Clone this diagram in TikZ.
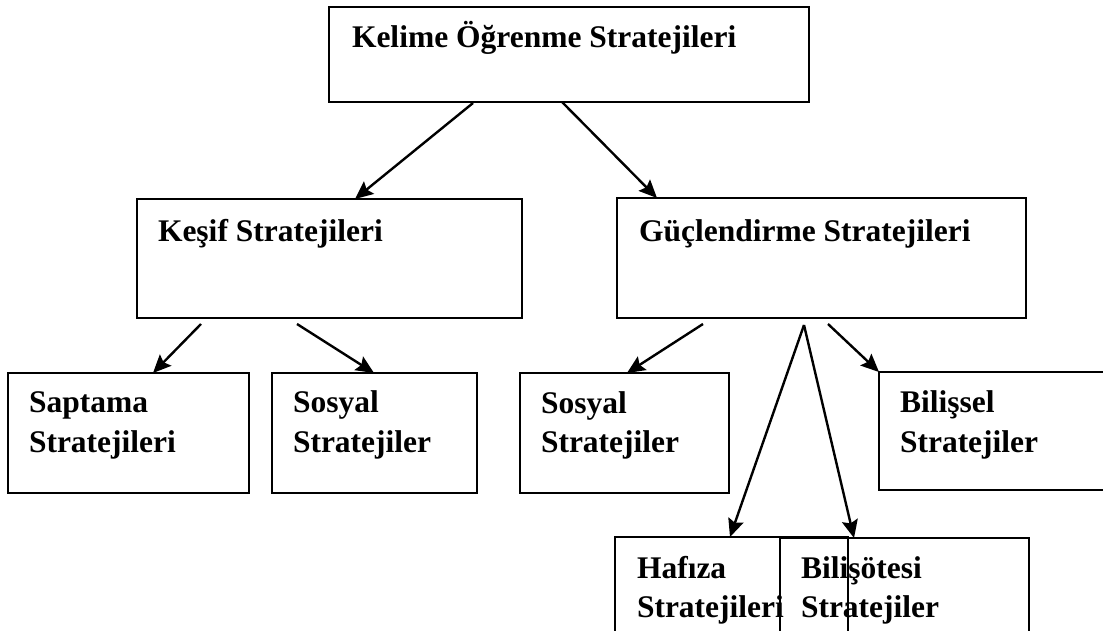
\documentclass[tikz,border=0pt]{standalone}
\usepackage{fontspec}
\setmainfont{Liberation Serif}
\usetikzlibrary{arrows.meta,calc}
\begin{document}
\begin{tikzpicture}[x=1pt,y=-1pt,
  box/.style={draw=black,line width=2.4pt,inner sep=0pt,outer sep=0pt,anchor=north west,rectangle},
  lbl/.style={inner sep=0pt,outer sep=0pt,anchor=base west,font=\bfseries\fontsize{31.5}{40}\selectfont},
  arr/.style={line width=2.4pt,-{Stealth[length=18pt,width=16pt,inset=3pt]}}]
\useasboundingbox (0,0) rectangle (1103,631);
\clip (0,0) rectangle (1103,631);
% boxes
\node[box,minimum width=480pt,minimum height=95pt] (top) at (329,7) {};
\node[box,minimum width=385pt,minimum height=119pt] (kesif) at (137,199) {};
\node[box,minimum width=409pt,minimum height=120pt] (guc) at (617,198) {};
\node[box,minimum width=241pt,minimum height=120pt] (sap) at (8,373) {};
\node[box,minimum width=205pt,minimum height=120pt] (sosL) at (272,373) {};
\node[box,minimum width=209pt,minimum height=120pt] (sosR) at (520,373) {};
\node[box,minimum width=231pt,minimum height=118pt] (bils) at (879,372) {};
\node[box,minimum width=233pt,minimum height=123pt] (haf) at (615,537) {};
\node[box,minimum width=249pt,minimum height=122pt] (bilo) at (780,538) {};
% labels
\node[lbl] (ttop) at (352,48) {Kelime Öğrenme Stratejileri};
\node[lbl] (tkesif) at (158,241) {Keşif Stratejileri};
\node[lbl] (tguc) at (639,241) {Güçlendirme Stratejileri};
\node[lbl] (tsap1) at (29,412) {Saptama};
\node[lbl] (tsap2) at (29,452) {Stratejileri};
\node[lbl] (tsosL1) at (293,412) {Sosyal};
\node[lbl] (tsosL2) at (293,452) {Stratejiler};
\node[lbl] (tsosR1) at (541,413) {Sosyal};
\node[lbl] (tsosR2) at (541,452) {Stratejiler};
\node[lbl] (tbils1) at (900,412) {Bilişsel};
\node[lbl] (tbils2) at (900,452) {Stratejiler};
\node[lbl] (thaf1) at (637,578) {Hafıza};
\node[lbl] (thaf2) at (637,617) {Stratejileri};
\node[lbl] (tbilo1) at (801,578) {Bilişötesi};
\node[lbl] (tbilo2) at (801,617) {Stratejiler};
% connector start points
\coordinate (s1) at ($(top.south west)+(144,1)$);
\coordinate (s2) at ($(top.south west)+(233,0)$);
\coordinate (s3) at ($(kesif.south west)+(64,6)$);
\coordinate (s4) at ($(kesif.south west)+(160,6)$);
\coordinate (s5) at ($(guc.south west)+(86,6)$);
\coordinate (s6) at ($(guc.south west)+(211,6)$);
\coordinate (apex) at ($(guc.south west)+(187,7)$);
% connectors
\draw[arr] (s1) -- ($(kesif.north west)+(218,0)$);
\draw[arr] (s2) -- ($(guc.north west)+(40,0)$);
\draw[arr] (s3) -- ($(sap.north west)+(145,0)$);
\draw[arr] (s4) -- ($(sosL.north west)+(102,0)$);
\draw[arr] (s5) -- ($(sosR.north west)+(107,0)$);
\draw[arr] (s6) -- (bils.north west);
\draw[arr] (apex) -- ($(haf.north west)+(115,0)$);
\draw[arr] (apex) -- ($(bilo.north west)+(74,0)$);
\end{tikzpicture}
\end{document}
